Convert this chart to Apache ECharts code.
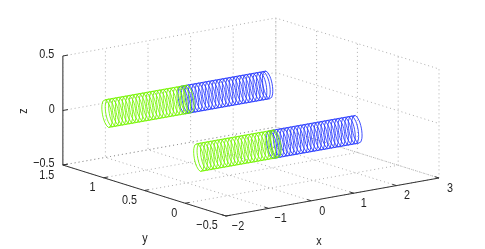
<!DOCTYPE html>
<html><head><meta charset="utf-8">
<script src="https://cdn.jsdelivr.net/npm/echarts@6/dist/echarts.min.js"></script>
<style>html,body{margin:0;padding:0;background:#fff}#c{width:485px;height:249px}</style></head>
<body><div id="c"></div>
<script>
const xTicks=[-2,-1,0,1,2,3];
const yTicks=[-0.5,0,0.5,1,1.5];
const zTicks=[-0.5,0,0.5];
const backGreenCoils=[-1.92,-1.84,-1.76,-1.68,-1.6,-1.52,-1.44,-1.36,-1.28,-1.2,-1.12,-1.04,-0.96,-0.88,-0.8,-0.72,-0.64,-0.56,-0.48,-0.4,-0.32,-0.24,-0.16,-0.08,0.0];
const backBlueCoils=[-0.13,-0.05,0.03,0.11,0.19,0.27,0.35,0.43,0.51,0.59,0.67,0.75,0.83,0.91,0.99,1.07,1.15,1.23,1.31,1.39,1.47,1.55,1.63,1.71,1.79,1.85];
const frontGreenCoils=[-1.68,-1.6,-1.52,-1.44,-1.36,-1.28,-1.2,-1.12,-1.04,-0.96,-0.88,-0.8,-0.72,-0.64,-0.56,-0.48,-0.4,-0.32,-0.24,-0.16,-0.08,0.0,0.08,0.13];
const frontBlueCoils=[0.03,0.11,0.19,0.27,0.35,0.43,0.51,0.59,0.67,0.75,0.83,0.91,0.99,1.07,1.15,1.23,1.31,1.39,1.47,1.55,1.63,1.71,1.79,1.87,1.95,2.03];
const backTube={y:1,z:0.083}, frontTube={y:0,z:-0.103};
const ringRadiusY=0.06, ringRadiusZ=0.13, ringLean=0.04;

const P=(x,y,z)=>[270.4+42.6*x-81.6*y, 133.55-7.6*x-25.5*y-109*z];
const FONT='"Liberation Sans",Arial,sans-serif';
const GREEN='#76f500', BLUE='#2a3cff';

function segs(list){const o=[];list.forEach(s=>{s.forEach(p=>o.push(P(p[0],p[1],p[2])));o.push([NaN,NaN]);});return o;}
function lineSeries(data,color,width,type){return {type:'line',data,symbol:'none',silent:true,animation:false,connectNulls:false,
  lineStyle:{color,width,type:type||'solid',cap:'butt'}};}
function rings(coils,t){const o=[];coils.forEach(c=>{for(let i=0;i<=32;i++){const a=i/32*2*Math.PI;
  o.push(P(c-ringLean*Math.sin(a),t.y+ringRadiusY*Math.cos(a),t.z+ringRadiusZ*Math.sin(a)));}o.push([NaN,NaN]);});
  const a=coils[0],b=coils[coils.length-1];
  [1,-1].forEach(s=>{o.push(P(a-s*ringLean,t.y,t.z+s*ringRadiusZ));o.push(P(b-s*ringLean,t.y,t.z+s*ringRadiusZ));o.push([NaN,NaN]);});
  return o;}
function labels(list){return {type:'custom',silent:true,animation:false,clip:false,
  data:list.map(l=>[l.p[0]+(l.o?l.o[0]:0),l.p[1]+(l.o?l.o[1]:0),l.t,l.r||0]),
  renderItem:(params,api)=>{const c=api.coord([api.value(0),api.value(1)]);const r=api.value(3);
    return {type:'text',x:c[0],y:c[1],scaleX:0.8,rotation:r,
      style:{text:String(list[params.dataIndex].t),fill:'#222',font:'13.5px '+FONT,textAlign:'center',textVerticalAlign:'middle'}};}
};}

const grid=[];
const zb=-0.5,xb=3,yb=1.5;
xTicks.forEach(x=>{grid.push([[x,-0.5,zb],[x,yb,zb],[x,yb,0.5]]);});
yTicks.forEach(y=>{grid.push([[-2,y,zb],[xb,y,zb],[xb,y,0.5]]);});
zTicks.forEach(z=>{grid.push([[-2,yb,z],[xb,yb,z],[xb,-0.5,z]]);});

const ticks=[];
xTicks.forEach(x=>ticks.push([[x,-0.5,zb],[x,-0.5+0.05,zb]]));
yTicks.forEach(y=>ticks.push([[-2,y,zb],[-2+0.1,y,zb]]));
zTicks.forEach(z=>ticks.push([[-2,yb,z],[-2+0.12,yb,z]]));

const fmt=v=>String(v).replace('-','\u2212');
const xOff=[[12,10],[12,9.6],[11,10],[10,10],[10.6,9.4],[11,10]];
const yOff=[[-19,9],[-11,10],[-15,10],[-11,10],[-16,10]];
const zOff=[[-19,-2],[-11,-1.5],[-16,-2]];
const tickLabels=[
 ...xTicks.map((x,i)=>({p:P(x,-0.5,zb),t:fmt(x),o:xOff[i]})),
 ...yTicks.map((y,i)=>({p:P(-2,y,zb),t:fmt(y),o:yOff[i]})),
 ...zTicks.map((z,i)=>({p:P(-2,yb,z),t:fmt(z),o:zOff[i]})),
 {p:[319,241],t:'x'},{p:[145,238],t:'y'},{p:[23,111],t:'z',r:Math.PI/2}
];

const option={
 animation:false,
 grid:{left:0,right:0,top:0,bottom:0},
 xAxis:{type:'value',min:0,max:485,show:false},
 yAxis:{type:'value',min:0,max:249,inverse:true,show:false},
 series:[
  lineSeries(segs(grid),'#8a8a8a',0.7,[1,3]),
  lineSeries(rings(backBlueCoils,backTube),BLUE,0.9),
  lineSeries(rings(backGreenCoils,backTube),GREEN,0.9),
  lineSeries(rings(frontBlueCoils,frontTube),BLUE,0.9),
  lineSeries(rings(frontGreenCoils,frontTube),GREEN,0.9),
  lineSeries(segs([[[-2,yb,zb],[-2,yb,0.5]]]),'#777',1.6),
  lineSeries(segs([[[-2,yb,zb],[-2,-0.5,zb],[xb,-0.5,zb]]]),'#333',1),
  lineSeries(segs(ticks),'#333',1),
  labels(tickLabels)
 ]
};
echarts.init(document.getElementById('c'),null,{renderer:'canvas'}).setOption(option);
</script></body></html>
